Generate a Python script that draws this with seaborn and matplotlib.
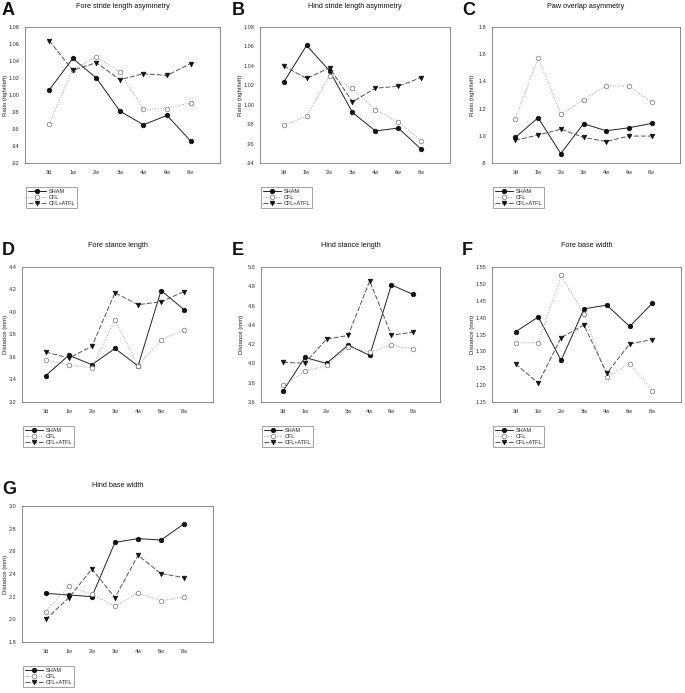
import pandas as pd
import seaborn as sns
import matplotlib.pyplot as plt
from matplotlib.lines import Line2D

sns.set_style("white")
plt.rcParams['font.family'] = ['Liberation Sans', 'DejaVu Sans']

weeks = ["3d", "1w", "2w", "3w", "4w", "6w", "8w"]
groups = ["SHAM", "CFL", "CFL+ATFL"]

# A - fore stride length asymmetry
fore_stride_sham = [1.006, 1.043, 1.020, 0.981, 0.965, 0.976, 0.946]
fore_stride_cfl = [0.966, 1.030, 1.045, 1.027, 0.983, 0.984, 0.991]
fore_stride_atfl = [1.064, 1.029, 1.038, 1.018, 1.025, 1.023, 1.037]
# B - hind stride length asymmetry
hind_stride_sham = [1.023, 1.061, 1.035, 0.992, 0.973, 0.976, 0.954]
hind_stride_cfl = [0.979, 0.988, 1.030, 1.017, 0.995, 0.982, 0.963]
hind_stride_atfl = [1.040, 1.027, 1.038, 1.003, 1.017, 1.019, 1.028]
# C - paw overlap asymmetry
paw_overlap_sham = [0.988, 1.133, 0.869, 1.089, 1.037, 1.059, 1.091]
paw_overlap_cfl = [1.126, 1.573, 1.160, 1.264, 1.368, 1.365, 1.247]
paw_overlap_atfl = [0.968, 1.005, 1.049, 0.988, 0.958, 0.998, 0.998]
# D - fore stance length
fore_stance_sham = [3.435, 3.615, 3.532, 3.676, 3.520, 4.191, 4.020]
fore_stance_cfl = [3.576, 3.529, 3.503, 3.929, 3.520, 3.753, 3.838]
fore_stance_atfl = [3.644, 3.591, 3.694, 4.171, 4.065, 4.091, 4.182]
# E - hind stance length
hind_stance_sham = [3.717, 4.062, 4.000, 4.190, 4.083, 4.814, 4.717]
hind_stance_cfl = [3.776, 3.917, 3.979, 4.172, 4.117, 4.190, 4.148]
hind_stance_atfl = [4.010, 4.003, 4.252, 4.290, 4.855, 4.293, 4.324]
# F - fore base width
fore_base_sham = [1.358, 1.402, 1.273, 1.426, 1.437, 1.374, 1.443]
fore_base_cfl = [1.325, 1.326, 1.525, 1.410, 1.225, 1.264, 1.183]
fore_base_atfl = [1.263, 1.206, 1.341, 1.378, 1.235, 1.322, 1.335]
# G - hind base width
hind_base_sham = [2.229, 2.215, 2.200, 2.679, 2.712, 2.700, 2.844]
hind_base_cfl = [2.068, 2.291, 2.220, 2.114, 2.232, 2.162, 2.200]
hind_base_atfl = [2.000, 2.191, 2.444, 2.191, 2.565, 2.403, 2.368]

W, H = 685, 693
fig = plt.figure(figsize=(W / 100, H / 100), dpi=100)

def px_axes(left, right, top, bottom):
    return [left / W, 1 - bottom / H, (right - left) / W, (bottom - top) / H]

# letter, title, ylabel, ylim, step, decimals, data, axes box (px), column x0
panels = [
    ("A", "Fore stride length asymmetry", "Ratio (right/left)", (0.92, 1.08), 0.02, 2,
     (fore_stride_sham, fore_stride_cfl, fore_stride_atfl), (25, 220, 27, 163), 0),
    ("B", "Hind stride length asymmetry", "Ratio (right/left)", (0.94, 1.08), 0.02, 2,
     (hind_stride_sham, hind_stride_cfl, hind_stride_atfl), (260, 450, 27, 163), 230),
    ("C", "Paw overlap asymmetry", "Ratio (right/left)", (0.8, 1.8), 0.2, 1,
     (paw_overlap_sham, paw_overlap_cfl, paw_overlap_atfl), (492, 680, 27, 163), 460),
    ("D", "Fore stance length", "Distance (mm)", (3.2, 4.4), 0.2, 1,
     (fore_stance_sham, fore_stance_cfl, fore_stance_atfl), (22, 213, 267, 402), 0),
    ("E", "Hind stance length", "Distance (mm)", (3.6, 5.0), 0.2, 1,
     (hind_stance_sham, hind_stance_cfl, hind_stance_atfl), (261, 440, 267, 402), 230),
    ("F", "Fore base width", "Distance (mm)", (1.15, 1.55), 0.05, 2,
     (fore_base_sham, fore_base_cfl, fore_base_atfl), (492, 681, 267, 402), 460),
    ("G", "Hind base width", "Distance (mm)", (1.8, 3.0), 0.2, 1,
     (hind_base_sham, hind_base_cfl, hind_base_atfl), (22, 213, 506, 642), 0),
]

styles = {
    "SHAM": dict(color="#222222", linestyle="-", marker="o", markerfacecolor="#111111",
                 markeredgecolor="#111111"),
    "CFL": dict(color="#aaaaaa", linestyle=":", marker="o", markerfacecolor="white",
                markeredgecolor="#777777"),
    "CFL+ATFL": dict(color="#555555", linestyle=(0, (5, 2)), marker="v",
                     markerfacecolor="#111111", markeredgecolor="#111111"),
}

def fmt(v, dec):
    s = f"{v:.{dec}f}"
    return s[1:] if s.startswith("0.") else s

for letter, title, ylabel, ylim, step, dec, series, box, x0 in panels:
    left, right, top, bottom = box
    ax = fig.add_axes(px_axes(left, right, top, bottom))
    rows = []
    for g, vals in zip(groups, series):
        for i, (w, v) in enumerate(zip(weeks, vals)):
            rows.append({"pos": i, "week": w, "group": g, "value": v})
    df = pd.DataFrame(rows)
    for g in groups:
        sns.lineplot(data=df[df["group"] == g], x="pos", y="value", ax=ax,
                     errorbar=None, linewidth=0.7, markersize=3.3,
                     markeredgewidth=0.5, label=g, legend=False, **styles[g])

    ax.set_xlim(-1.03, 7.25)
    ax.set_ylim(*ylim)
    n = int(round((ylim[1] - ylim[0]) / step))
    yt = [ylim[0] + k * step for k in range(n + 1)]
    ax.set_yticks(yt)
    ax.set_yticklabels([fmt(v, dec) for v in yt])
    ax.set_xticks(range(len(weeks)))
    ax.set_xticklabels(weeks)
    ax.tick_params(axis="both", labelsize=4, length=2, width=0.4, pad=2,
                   colors="#333333", direction="out")
    ax.tick_params(axis="x", length=0, pad=5)
    ax.set_xlabel("")
    ax.set_ylabel(ylabel, fontsize=4.3, color="#222222")
    # right edge of the rotated label, kept inside the figure
    lab_off = min(17, left - (x0 + 8))
    ax.yaxis.set_label_coords(-lab_off / (right - left), 0.5)
    for sp in ax.spines.values():
        sp.set_color("#777777")
        sp.set_linewidth(0.6)

    hgt = bottom - top
    ax.text(0.5, 1 + 21 / hgt, title, transform=ax.transAxes, ha="center",
            va="center", fontsize=5.2, color="#111111")
    fig.text((x0 + 2) / W, 1 - (top - 25) / H, letter, ha="left", va="top",
             fontsize=13, fontweight="bold", color="#111111")

    handles = [Line2D([], [], linewidth=0.7, markersize=3.3, markeredgewidth=0.5,
                      **styles[g]) for g in groups]
    leg = ax.legend(handles, groups, loc="upper left",
                    bbox_to_anchor=(1 / (right - left), -(24 / hgt)),
                    borderaxespad=0, fontsize=4, frameon=True, fancybox=False,
                    handlelength=3.2, handletextpad=0.5, borderpad=0.35,
                    labelspacing=0.15, edgecolor="#777777")
    leg.get_frame().set_linewidth(0.6)
    for t in leg.get_texts():
        t.set_color("#222222")

plt.savefig("out.png", dpi=100)
